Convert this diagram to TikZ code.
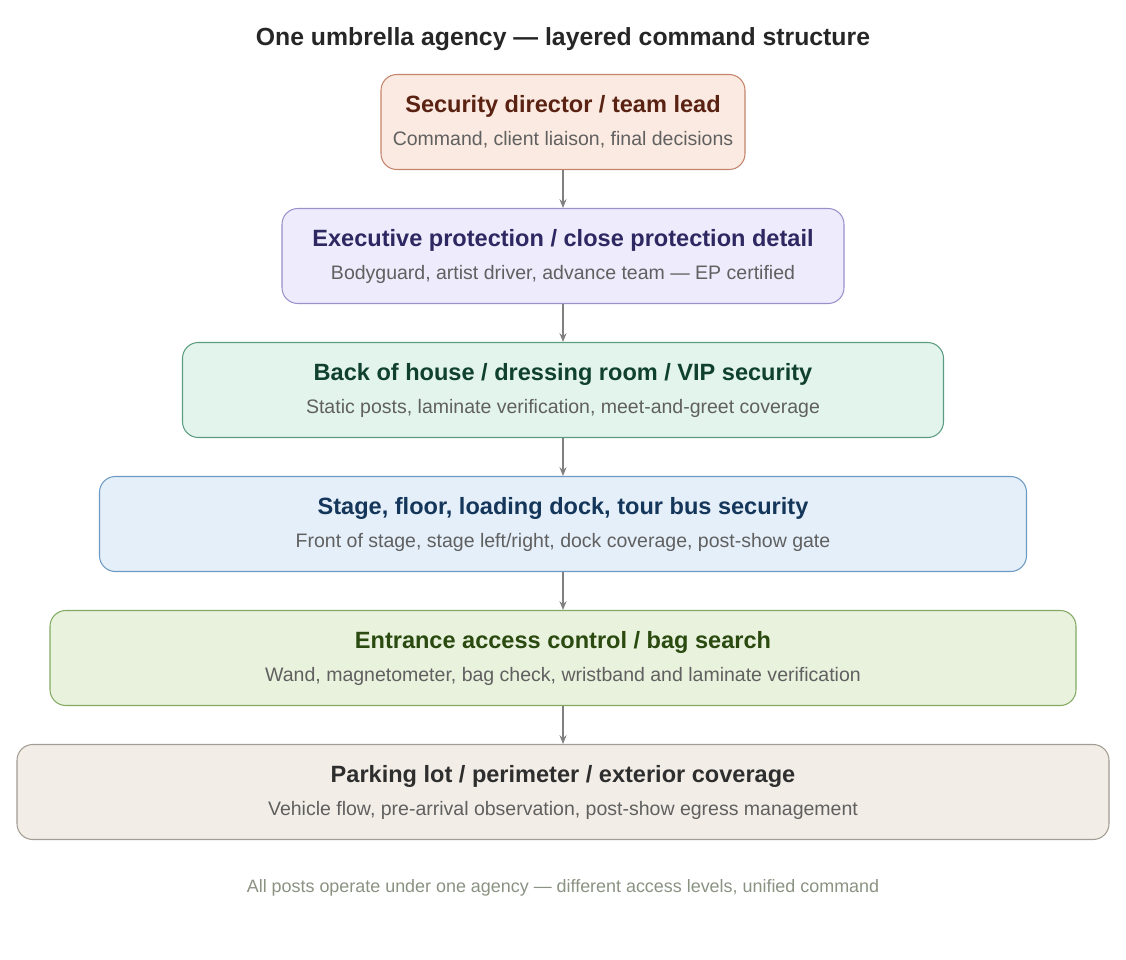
\documentclass[tikz,border=0pt]{standalone}
\usepackage{fontspec}
\setmainfont{Liberation Sans}
\usetikzlibrary{arrows.meta}
\definecolor{fillA}{HTML}{FBEAE1}\definecolor{lineA}{HTML}{C4846C}\definecolor{textA}{HTML}{5A2212}
\definecolor{fillB}{HTML}{EEEBFC}\definecolor{lineB}{HTML}{9A90CA}\definecolor{textB}{HTML}{2E2862}
\definecolor{fillC}{HTML}{E2F4EC}\definecolor{lineC}{HTML}{5C9C80}\definecolor{textC}{HTML}{10402F}
\definecolor{fillD}{HTML}{E5EFF9}\definecolor{lineD}{HTML}{6C9AC2}\definecolor{textD}{HTML}{13365A}
\definecolor{fillE}{HTML}{E9F2DD}\definecolor{lineE}{HTML}{82AA62}\definecolor{textE}{HTML}{2A4A10}
\definecolor{fillF}{HTML}{F2EEE7}\definecolor{lineF}{HTML}{A29C92}\definecolor{textF}{HTML}{2E2E2E}
\definecolor{subgray}{HTML}{606060}
\definecolor{footgray}{HTML}{8A9282}
\tikzset{layer/.style={draw,rounded corners=9pt,line width=0.6pt,minimum height=1.9cm,align=center,inner sep=0pt}}
\tikzset{hd/.style={font=\fontsize{13.4}{16}\selectfont\bfseries}}
\tikzset{sb/.style={font=\fontsize{11.1}{13}\selectfont,text=subgray}}
\tikzset{link/.style={-{Stealth[length=5pt,width=4pt]},draw=gray,line width=0.6pt}}
\newcommand{\layerbox}[8]{%
  \node[layer,fill=#4,draw=#5,minimum width=#3] (#1) at (11.26,#2) {};
  \node[hd,text=#6] (#1t) at (11.26,#2+0.32) {#7};
  \node[sb] (#1s) at (11.26,#2-0.36) {#8};}
\begin{document}
\begin{tikzpicture}
\useasboundingbox (0,0) rectangle (22.52,-19.2);
\node[font=\fontsize{14.1}{17}\selectfont\bfseries,text=black!85] (title) at (11.26,-0.78) {One umbrella agency — layered command structure};
\layerbox{dir}{-2.44}{7.28cm}{fillA}{lineA}{textA}{Security director / team lead}{Command, client liaison, final decisions}
\layerbox{ep}{-5.12}{11.24cm}{fillB}{lineB}{textB}{Executive protection / close protection detail}{Bodyguard, artist driver, advance team — EP certified}
\layerbox{boh}{-7.8}{15.22cm}{fillC}{lineC}{textC}{Back of house / dressing room / VIP security}{Static posts, laminate verification, meet-and-greet coverage}
\layerbox{stage}{-10.48}{18.54cm}{fillD}{lineD}{textD}{Stage, floor, loading dock, tour bus security}{Front of stage, stage left/right, dock coverage, post-show gate}
\layerbox{entr}{-13.16}{20.52cm}{fillE}{lineE}{textE}{Entrance access control / bag search}{Wand, magnetometer, bag check, wristband and laminate verification}
\layerbox{park}{-15.84}{21.84cm}{fillF}{lineF}{textF}{Parking lot / perimeter / exterior coverage}{Vehicle flow, pre-arrival observation, post-show egress management}
% links between layers
\draw[link] (dir) -- (ep);
\draw[link] (ep) -- (boh);
\draw[link] (boh) -- (stage);
\draw[link] (stage) -- (entr);
\draw[link] (entr) -- (park);
\node[font=\fontsize{10.2}{12}\selectfont,text=footgray] (foot) at (11.26,-17.76) {All posts operate under one agency — different access levels, unified command};
\end{tikzpicture}
\end{document}
